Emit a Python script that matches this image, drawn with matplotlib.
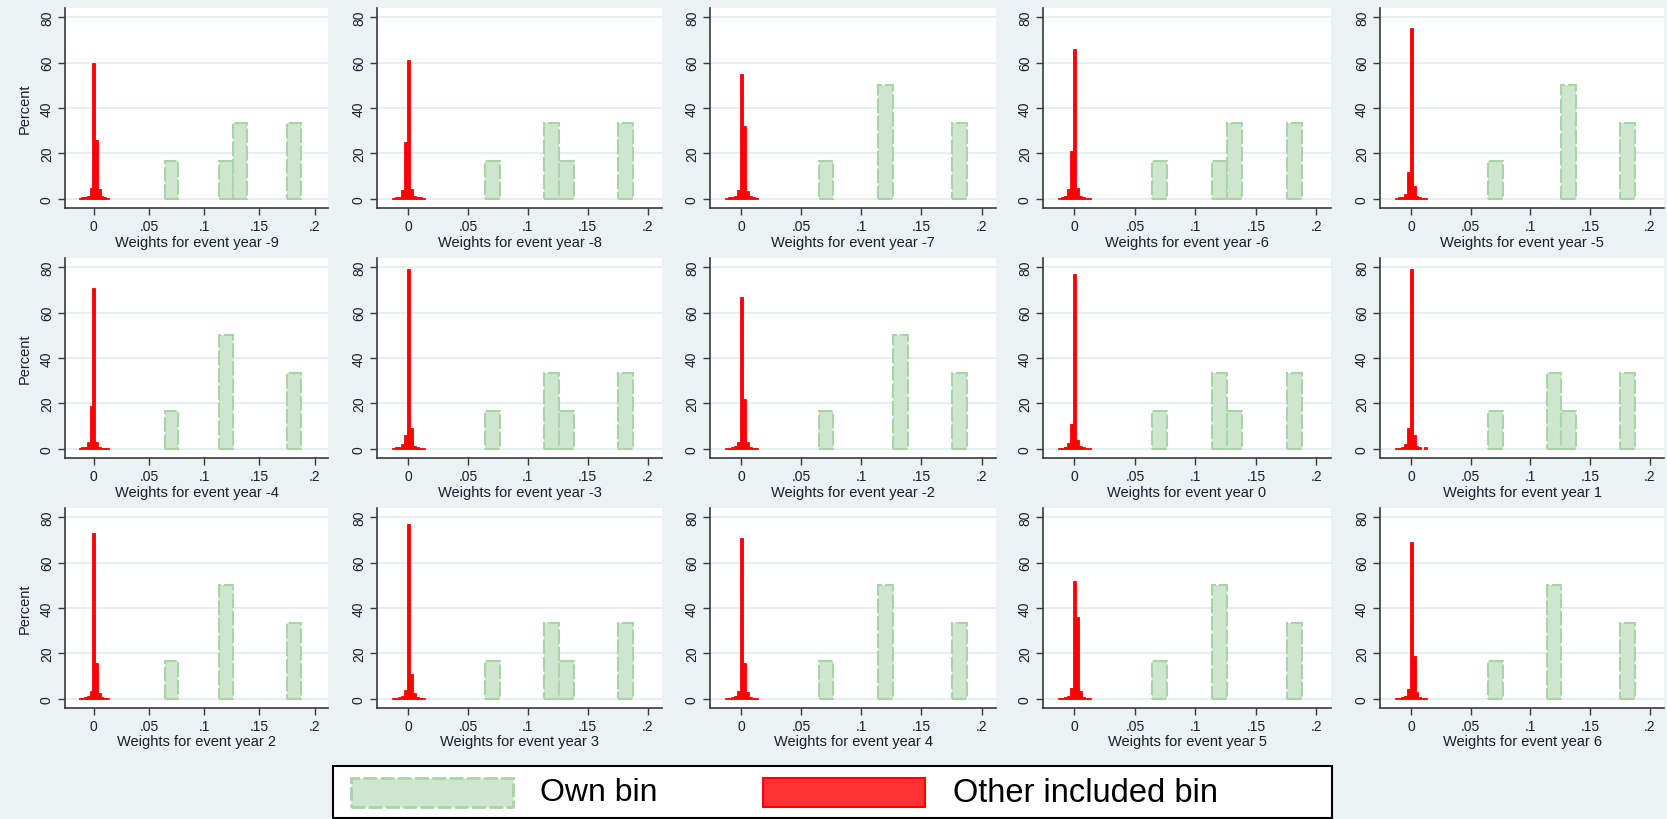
import matplotlib
matplotlib.use("Agg")
import matplotlib.pyplot as plt
from matplotlib.patches import Rectangle

plt.rcParams['font.family'] = ['Liberation Sans', 'DejaVu Sans']

# Event years shown in the 3 x 5 grid
event_years = [-9, -8, -7, -6, -5, -4, -3, -2, 0, 1, 2, 3, 4, 5, 6]

# Own-bin histogram: bin centers (weights) and percent per panel
own_centers = [0.0705, 0.1199, 0.1322, 0.1815]
own_width = 0.01234
own_pct = [
    [16.7, 16.7, 33.3, 33.3],
    [16.7, 33.3, 16.7, 33.3],
    [16.7, 50.0, 0.0, 33.3],
    [16.7, 16.7, 33.3, 33.3],
    [16.7, 0.0, 50.0, 33.3],
    [16.7, 50.0, 0.0, 33.3],
    [16.7, 33.3, 16.7, 33.3],
    [16.7, 0.0, 50.0, 33.3],
    [16.7, 33.3, 16.7, 33.3],
    [16.7, 33.3, 16.7, 33.3],
    [16.7, 50.0, 0.0, 33.3],
    [16.7, 33.3, 16.7, 33.3],
    [16.7, 50.0, 0.0, 33.3],
    [16.7, 50.0, 0.0, 33.3],
    [16.7, 50.0, 0.0, 33.3],
]

# Other-included-bin histogram: bin centers and percent per panel
other_centers = [-0.0125, -0.01, -0.0075, -0.005, -0.0025, 0.0,
                 0.0025, 0.005, 0.0075, 0.01, 0.0125]
other_width = 0.0025
other_pct = [
    [0.6, 0.8, 1.0, 1.5, 5.0, 60, 26, 4.5, 1.5, 0.8, 0.6],
    [0.6, 0.8, 1.0, 4.0, 25, 61, 4.5, 1.5, 1.0, 0.8, 0.6],
    [0.5, 0.8, 1.0, 1.5, 4.0, 55, 32, 3.5, 1.2, 0.8, 0.5],
    [0.5, 0.8, 1.2, 4.5, 21, 66, 5.0, 1.5, 0.8, 0.6, 0.5],
    [0.5, 0.8, 1.0, 2.0, 12, 75, 5.5, 1.5, 0.8, 0.6, 0.5],
    [0.5, 0.7, 1.0, 3.0, 19, 71, 3.0, 1.0, 0.5, 0.4, 0.3],
    [0.5, 0.7, 1.0, 2.0, 6.0, 79, 9.0, 1.5, 0.8, 0.6, 0.5],
    [0.4, 0.6, 0.8, 1.2, 3.0, 67, 22, 3.0, 1.0, 0.6, 0.4],
    [0.4, 0.6, 0.8, 2.5, 11, 77, 4.0, 1.2, 0.8, 0.6, 0.4],
    [0.4, 0.6, 0.8, 2.0, 9.0, 79, 6.0, 1.5, 0.8, 0.0, 1.0],
    [0.4, 0.6, 0.8, 1.2, 3.5, 73, 16, 2.5, 1.0, 0.6, 0.4],
    [0.4, 0.6, 0.8, 1.5, 4.0, 77, 11, 2.5, 1.0, 0.6, 0.4],
    [0.4, 0.6, 0.8, 1.2, 3.5, 71, 16, 3.0, 1.0, 0.6, 0.4],
    [0.4, 0.6, 0.8, 1.5, 5.0, 52, 36, 3.5, 1.0, 0.6, 0.4],
    [0.4, 0.6, 0.8, 1.5, 4.5, 69, 19, 3.0, 1.0, 0.6, 0.4],
]

x_ticks = [0, 0.05, 0.1, 0.15, 0.2]
x_ticklabels = ["0", ".05", ".1", ".15", ".2"]
y_ticks = [0, 20, 40, 60, 80]

BG = "#eaf2f3"
GREEN_FILL = "#cde6cd"
GREEN_EDGE = "#a9d4a9"
RED = "#ff0000"
AXIS_COL = "#3a3a3a"
TEXT_COL = "#1c1c2c"

W, H = 1667, 820
fig = plt.figure(figsize=(W / 100, H / 100), dpi=100, facecolor=BG)

# Plot-region extents in pixels: columns (left, right), rows (top, bottom)
cols = [(65, 328), (377, 662), (710, 996), (1043, 1331), (1380, 1664)]
rows = [(9, 209), (259, 459), (509, 709)]


def nonempty(centers, pct):
    """Keep only bins with a positive percentage (empty bins draw nothing)."""
    kept = [(x, p) for x, p in zip(centers, pct) if p > 0]
    return [x for x, _ in kept], [p for _, p in kept]


for k, year in enumerate(event_years):
    r, c = divmod(k, 5)
    x0, x1 = cols[c]
    t, b = rows[r]
    ax = fig.add_axes([x0 / W, 1 - b / H, (x1 - x0) / W, (b - t) / H])
    ax.set_facecolor("white")
    ax.set_axisbelow(True)
    ax.yaxis.grid(True, color="#e5eef0", lw=1.4)

    gx, gp = nonempty(own_centers, own_pct[k])
    ax.bar(gx, gp, width=own_width, color=GREEN_FILL,
           edgecolor=GREEN_EDGE, linewidth=1.5, linestyle=(0, (7, 1.4)),
           zorder=2)
    rx, rp = nonempty(other_centers, other_pct[k])
    ax.bar(rx, rp, width=other_width, color=RED,
           edgecolor=RED, linewidth=0.6, zorder=3)

    ax.set_xlim(-0.026, 0.212)
    ax.set_ylim(-4, 84)
    ax.set_xticks(x_ticks)
    ax.set_xticklabels(x_ticklabels)
    ax.set_yticks(y_ticks)
    ax.set_yticklabels([str(v) for v in y_ticks], rotation=90, va="center")
    ax.tick_params(axis="both", direction="out", length=5, width=1,
                   color=AXIS_COL, labelsize=10, labelcolor=TEXT_COL, pad=3)
    for side in ("top", "right"):
        ax.spines[side].set_visible(False)
    for side in ("left", "bottom"):
        ax.spines[side].set_color(AXIS_COL)
        ax.spines[side].set_linewidth(1.2)

    ax.set_xlabel(f"Weights for event year {year}", fontsize=10.5,
                  color=TEXT_COL, labelpad=1)
    if c == 0:
        ax.set_ylabel("Percent", fontsize=10.5, color=TEXT_COL, labelpad=6)

# Legend box along the bottom edge
lx0, lx1, ly_top, ly_bot = 333, 1332, 767, 819
fig.patches.append(Rectangle((lx0 / W, 1 - ly_bot / H), (lx1 - lx0) / W,
                             (ly_bot - ly_top) / H, transform=fig.transFigure,
                             facecolor="white", edgecolor="black", lw=1.5))
sw_top, sw_bot = 779, 808
fig.patches.append(Rectangle((351 / W, 1 - sw_bot / H), (513 - 351) / W,
                             (sw_bot - sw_top) / H, transform=fig.transFigure,
                             facecolor=GREEN_FILL, edgecolor=GREEN_EDGE, lw=2,
                             linestyle=(0, (5, 1.2))))
fig.patches.append(Rectangle((763 / W, 1 - sw_bot / H), (925 - 763) / W,
                             (sw_bot - sw_top) / H, transform=fig.transFigure,
                             facecolor="#ff3333", edgecolor=RED, lw=1.5))
ymid = 1 - 793.5 / H
fig.text(540 / W, ymid, "Own bin", fontsize=23, color="black", va="center")
fig.text(953 / W, ymid, "Other included bin", fontsize=23.5, color="black",
         va="center")

fig.savefig("out.png", dpi=100, facecolor=BG)
